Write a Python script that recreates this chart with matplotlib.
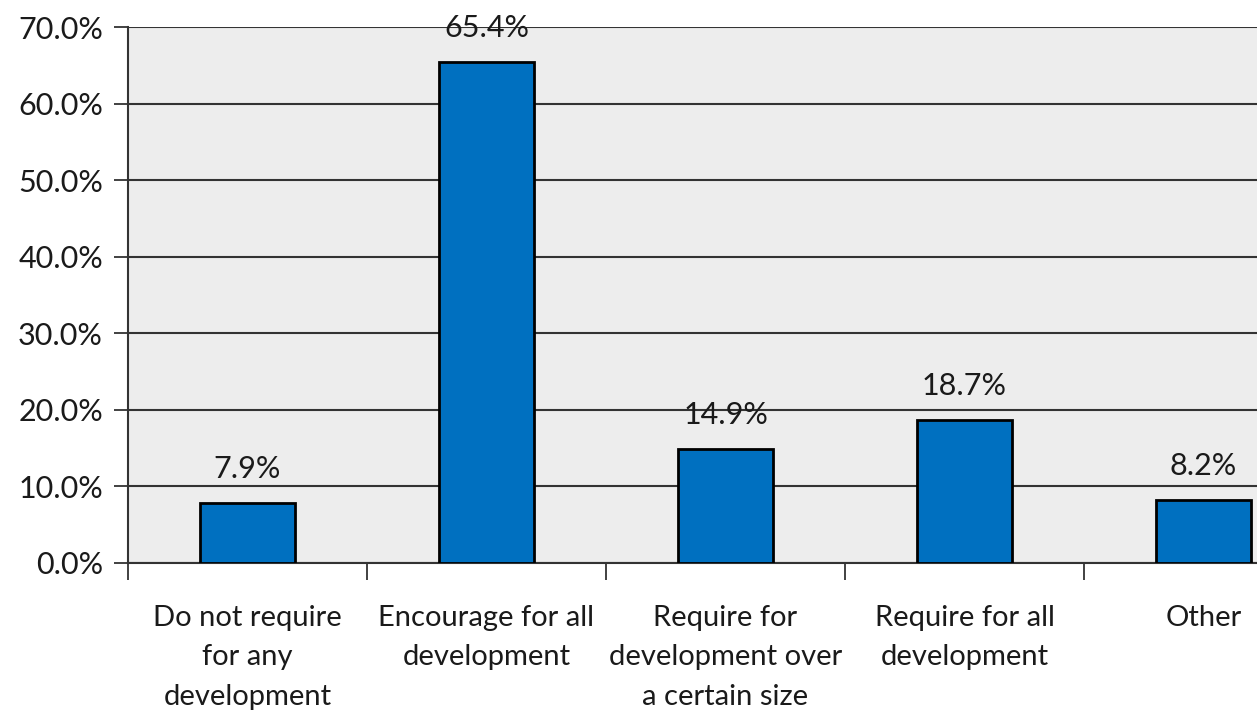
import numpy as np
import matplotlib.pyplot as plt
from matplotlib.ticker import FuncFormatter

# data
categories = ["Do not require\nfor any\ndevelopment", "Encourage for all\ndevelopment",
              "Require for\ndevelopment over\na certain size", "Require for all\ndevelopment", "Other"]
values = [7.9, 65.4, 14.9, 18.7, 8.2]

plt.rcParams['font.family'] = ['Lato', 'DejaVu Sans']

fig = plt.figure(figsize=(12.57, 7.13), dpi=100)
# right edge of plot runs past the image, as in the original
ax = fig.add_axes([128/1257, 150/713, 5*239/1257, 536/713])
ax.set_facecolor("#ededed")

x = np.arange(len(values))
ax.bar(x, values, width=0.4, color="#0070c0", edgecolor="black", linewidth=2, zorder=3)
for xi, v in zip(x, values):
    ax.text(xi, v + 2.6, f"{v:.1f}%", ha="center", va="bottom", fontsize=22, color="#1a1a1a")

ax.set_ylim(0, 70)
ax.set_xlim(-0.5, len(values) - 0.5)
ax.set_yticks(np.arange(0, 71, 10))
ax.yaxis.set_major_formatter(FuncFormatter(lambda v, p: f"{v:.1f}%"))
ax.grid(axis="y", color="#333333", linewidth=1.5, zorder=1)

# category boundaries as ticks, labels at centers
ax.set_xticks(np.arange(-0.5, len(values), 1.0))
ax.set_xticklabels([])
ax.set_xticks(x, minor=True)
ax.set_xticklabels(categories, minor=True, fontsize=21, linespacing=1.65, color="#1a1a1a")
ax.tick_params(axis="x", which="minor", length=0, pad=30)
ax.tick_params(axis="x", which="major", length=12, width=1.3, color="#333333")
ax.tick_params(axis="y", length=10, width=1.3, color="#333333", labelsize=22, pad=8,
               labelcolor="#1a1a1a")

for s in ["top", "right"]:
    ax.spines[s].set_visible(False)
ax.spines["left"].set_color("#333333")
ax.spines["left"].set_linewidth(1.5)
ax.spines["bottom"].set_color("#333333")
ax.spines["bottom"].set_linewidth(1.5)

fig.savefig("out.png", dpi=100)
